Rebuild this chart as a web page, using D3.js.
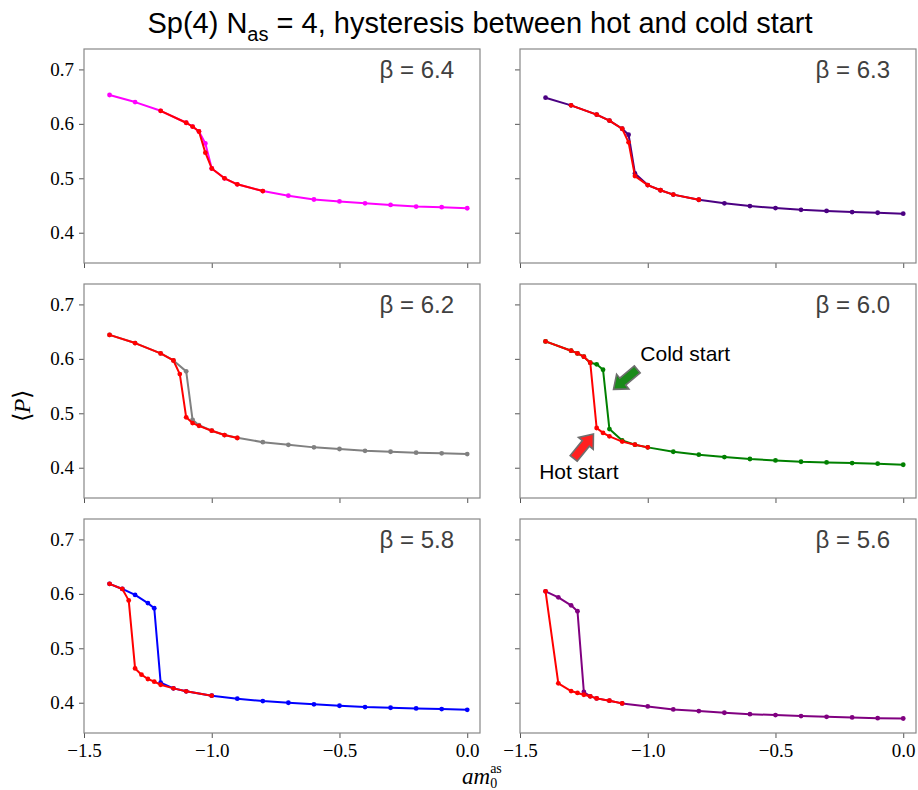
<!DOCTYPE html>
<html>
<head>
<meta charset="utf-8">
<script src="https://cdn.jsdelivr.net/npm/d3@7"></script>
<style>
  body { margin: 0; background: #fff; }
  svg { display: block; }
</style>
</head>
<body>
<svg id="chart"></svg>
<script>
// ===================== DADOS =====================
const betas = ["6.4", "6.3", "6.2", "6.0", "5.8", "5.6"];
const coldColors = ["#ff00ff", "#4b0082", "#808080", "#008000", "#0000ff", "#800080"];
const hotColor = "#ff0000";

// beta = 6.4
const cold64X = [-1.4, -1.3, -1.2, -1.1, -1.075, -1.05, -1.025, -1.0, -0.95, -0.9, -0.8, -0.7, -0.6, -0.5, -0.4, -0.3, -0.2, -0.1, 0.0];
const cold64Y = [0.653, 0.640, 0.624, 0.602, 0.595, 0.586, 0.564, 0.518, 0.500, 0.489, 0.4765, 0.468, 0.461, 0.4575, 0.454, 0.451, 0.448, 0.447, 0.445];
const hot64X = [-1.2, -1.1, -1.075, -1.05, -1.025, -1.0, -0.95, -0.9, -0.8];
const hot64Y = [0.624, 0.602, 0.595, 0.586, 0.547, 0.518, 0.500, 0.489, 0.4765];

// beta = 6.3
const cold63X = [-1.4, -1.3, -1.2, -1.15, -1.1, -1.075, -1.05, -1.0, -0.95, -0.9, -0.8, -0.7, -0.6, -0.5, -0.4, -0.3, -0.2, -0.1, 0.0];
const cold63Y = [0.648, 0.634, 0.617, 0.606, 0.591, 0.580, 0.509, 0.4875, 0.478, 0.470, 0.4606, 0.454, 0.449, 0.4453, 0.442, 0.440, 0.438, 0.4367, 0.435];
const hot63X = [-1.3, -1.2, -1.15, -1.1, -1.075, -1.05, -1.0, -0.95, -0.9, -0.8];
const hot63Y = [0.634, 0.617, 0.606, 0.591, 0.566, 0.504, 0.4875, 0.478, 0.470, 0.4606];

// beta = 6.2
const cold62X = [-1.4, -1.3, -1.2, -1.15, -1.1, -1.075, -1.05, -1.0, -0.95, -0.9, -0.8, -0.7, -0.6, -0.5, -0.4, -0.3, -0.2, -0.1, 0.0];
const cold62Y = [0.644, 0.629, 0.610, 0.597, 0.577, 0.488, 0.478, 0.468, 0.460, 0.455, 0.447, 0.442, 0.4374, 0.4344, 0.431, 0.4294, 0.4276, 0.4264, 0.425];
const hot62X = [-1.4, -1.3, -1.2, -1.15, -1.125, -1.1, -1.075, -1.05, -1.0, -0.95, -0.9];
const hot62Y = [0.644, 0.629, 0.610, 0.597, 0.572, 0.4926, 0.482, 0.477, 0.468, 0.460, 0.4546];

// beta = 6.0
const cold60X = [-1.4, -1.3, -1.275, -1.25, -1.225, -1.2, -1.175, -1.15, -1.1, -1.05, -1.0, -0.9, -0.8, -0.7, -0.6, -0.5, -0.4, -0.3, -0.2, -0.1, 0.0];
const cold60Y = [0.632, 0.615, 0.610, 0.604, 0.593, 0.590, 0.580, 0.471, 0.450, 0.4423, 0.4374, 0.4294, 0.424, 0.4196, 0.416, 0.4135, 0.411, 0.4098, 0.4086, 0.4074, 0.4055];
const hot60X = [-1.4, -1.3, -1.275, -1.25, -1.225, -1.2, -1.175, -1.15, -1.1, -1.05, -1.0];
const hot60Y = [0.632, 0.615, 0.610, 0.604, 0.593, 0.473, 0.464, 0.4577, 0.448, 0.4423, 0.4374];

// beta = 5.8
const cold58X = [-1.4, -1.35, -1.3, -1.25, -1.225, -1.2, -1.15, -1.1, -1.0, -0.9, -0.8, -0.7, -0.6, -0.5, -0.4, -0.3, -0.2, -0.1, 0.0];
const cold58Y = [0.6184, 0.609, 0.598, 0.583, 0.5736, 0.437, 0.4264, 0.421, 0.413, 0.4074, 0.403, 0.400, 0.397, 0.3945, 0.392, 0.3908, 0.3896, 0.3883, 0.387];
const hot58X = [-1.4, -1.35, -1.325, -1.3, -1.275, -1.25, -1.225, -1.2, -1.15, -1.1, -1.0];
const hot58Y = [0.6184, 0.609, 0.588, 0.463, 0.4515, 0.4436, 0.4387, 0.433, 0.4264, 0.421, 0.413];

// beta = 5.6
const cold56X = [-1.4, -1.35, -1.3, -1.275, -1.25, -1.225, -1.2, -1.15, -1.1, -1.0, -0.9, -0.8, -0.7, -0.6, -0.5, -0.4, -0.3, -0.2, -0.1, 0.0];
const cold56Y = [0.6047, 0.5936, 0.579, 0.568, 0.4197, 0.4117, 0.408, 0.4037, 0.3988, 0.3932, 0.3877, 0.3846, 0.3816, 0.379, 0.3773, 0.3754, 0.3742, 0.373, 0.3717, 0.371];
const hot56X = [-1.4, -1.35, -1.3, -1.275, -1.25, -1.225, -1.2, -1.15, -1.1];
const hot56Y = [0.6047, 0.4356, 0.4215, 0.418, 0.4147, 0.4117, 0.408, 0.4037, 0.3988];

const coldX = [cold64X, cold63X, cold62X, cold60X, cold58X, cold56X];
const coldY = [cold64Y, cold63Y, cold62Y, cold60Y, cold58Y, cold56Y];
const hotX = [hot64X, hot63X, hot62X, hot60X, hot58X, hot56X];
const hotY = [hot64Y, hot63Y, hot62Y, hot60Y, hot58Y, hot56Y];

const xTicks = [-1.5, -1.0, -0.5, 0.0];
const yTicks = [0.4, 0.5, 0.6, 0.7];

// anotacoes no painel beta = 6.0 (unidades dos dados)
const coldArrow = { tail: [-1.041, 0.5806], tip: [-1.134, 0.544] };
const hotArrow = { tail: [-1.290, 0.4172], tip: [-1.2125, 0.4618] };
const coldText = { x: -1.029, y: 0.5958, label: "Cold start" };
const hotText = { x: -1.425, y: 0.379, label: "Hot start" };

// ===================== LAYOUT =====================
const width = 918;
const height = 790;
const colX = [84, 520];
const panelW = 396;
const rowY = [49, 284, 519];
const panelH = 214;
const xDomain = [-1.5, 0.05];
const yDomain = [0.3444, 0.7375];

const svg = d3.select("#chart").attr("width", width).attr("height", height);

const sans = "'Liberation Sans', Arial, sans-serif";
const serif = "'Liberation Serif', 'Times New Roman', serif";

// titulo
const title = svg.append("text")
  .attr("x", 480)
  .attr("y", 33)
  .attr("text-anchor", "middle")
  .attr("font-family", sans)
  .attr("font-size", 29)
  .attr("fill", "#000");
title.append("tspan").text("Sp(4) N");
title.append("tspan").attr("font-size", 20).attr("dy", 8).text("as");
title.append("tspan").attr("dy", -8).text(" = 4, hysteresis between hot and cold start");

const fmt = (v) => d3.format(".1f")(v).replace("-", "\u2212");

betas.forEach((beta, i) => {
  const col = i % 2;
  const row = Math.floor(i / 2);
  const x = d3.scaleLinear().domain(xDomain).range([colX[col], colX[col] + panelW]);
  const y = d3.scaleLinear().domain(yDomain).range([rowY[row] + panelH, rowY[row]]);
  const g = svg.append("g");

  // eixos
  const yAxis = d3.axisLeft(y).tickValues(yTicks).tickSize(5).tickPadding(5)
    .tickFormat(col === 0 ? fmt : "");
  const xAxis = d3.axisBottom(x).tickValues(xTicks).tickSize(5).tickPadding(6)
    .tickFormat(row === 2 ? fmt : "");

  const ya = g.append("g").attr("transform", `translate(${colX[col]},0)`).call(yAxis);
  const xa = g.append("g").attr("transform", `translate(0,${rowY[row] + panelH})`).call(xAxis);
  [ya, xa].forEach((a) => {
    a.select(".domain").remove();
    a.selectAll(".tick line").attr("stroke", "#555").attr("stroke-width", 1);
    a.selectAll(".tick text").attr("font-family", serif).attr("font-size", 19).attr("fill", "#000");
  });

  // moldura
  g.append("rect")
    .attr("x", colX[col]).attr("y", rowY[row])
    .attr("width", panelW).attr("height", panelH)
    .attr("fill", "none").attr("stroke", "#888").attr("stroke-width", 1.2);

  const line = d3.line().x((d) => x(d[0])).y((d) => y(d[1]));

  const series = [
    { pts: d3.zip(coldX[i], coldY[i]), color: coldColors[i] },
    { pts: d3.zip(hotX[i], hotY[i]), color: hotColor }
  ];

  series.forEach((s) => {
    g.append("path")
      .attr("d", line(s.pts))
      .attr("fill", "none")
      .attr("stroke", s.color)
      .attr("stroke-width", 2)
      .attr("stroke-linejoin", "round");
    g.selectAll(null)
      .data(s.pts)
      .join("circle")
      .attr("cx", (d) => x(d[0]))
      .attr("cy", (d) => y(d[1]))
      .attr("r", 2.4)
      .attr("fill", s.color);
  });

  // rotulo beta
  g.append("text")
    .attr("x", colX[col] + panelW - 26)
    .attr("y", rowY[row] + 29)
    .attr("text-anchor", "end")
    .attr("font-family", sans)
    .attr("font-size", 24)
    .attr("fill", "#404040")
    .text(`\u03b2 = ${beta}`);

  if (beta === "6.0") {
    drawArrow(g, x, y, coldArrow, "#1a8a1a");
    drawArrow(g, x, y, hotArrow, "#ff2020");
    [coldText, hotText].forEach((t) => {
      g.append("text")
        .attr("x", x(t.x)).attr("y", y(t.y))
        .attr("font-family", sans).attr("font-size", 21)
        .attr("fill", "#000").text(t.label);
    });
  }
});

// seta em bloco
function drawArrow(g, x, y, a, fill) {
  const x0 = x(a.tail[0]), y0 = y(a.tail[1]);
  const x1 = x(a.tip[0]), y1 = y(a.tip[1]);
  const L = Math.hypot(x1 - x0, y1 - y0);
  const ux = (x1 - x0) / L, uy = (y1 - y0) / L;
  const nx = -uy, ny = ux;
  const sw = 4.5, hw = 9.5, hl = 12;
  const bx = x1 - ux * hl, by = y1 - uy * hl;
  const pts = [
    [x0 + nx * sw, y0 + ny * sw],
    [bx + nx * sw, by + ny * sw],
    [bx + nx * hw, by + ny * hw],
    [x1, y1],
    [bx - nx * hw, by - ny * hw],
    [bx - nx * sw, by - ny * sw],
    [x0 - nx * sw, y0 - ny * sw]
  ];
  g.append("polygon")
    .attr("points", pts.map((p) => p.join(",")).join(" "))
    .attr("fill", fill)
    .attr("stroke", "#6e6e6e")
    .attr("stroke-width", 1.6)
    .attr("stroke-linejoin", "miter");
}

// rotulos dos eixos
const yl = svg.append("text")
  .attr("transform", "translate(30,406) rotate(-90)")
  .attr("text-anchor", "middle")
  .attr("font-family", serif)
  .attr("font-size", 24)
  .attr("fill", "#000");
yl.append("tspan").text("\u27e8");
yl.append("tspan").attr("font-style", "italic").text("P");
yl.append("tspan").text("\u27e9");

const xl = svg.append("text")
  .attr("x", 462)
  .attr("y", 784)
  .attr("font-family", serif)
  .attr("font-size", 23)
  .attr("fill", "#000");
xl.append("tspan").attr("font-style", "italic").text("am");
xl.append("tspan").attr("font-size", 14).attr("dy", 4).text("0");
xl.append("tspan").attr("font-size", 14).attr("dx", -7).attr("dy", -15).text("as");
</script>
</body>
</html>
